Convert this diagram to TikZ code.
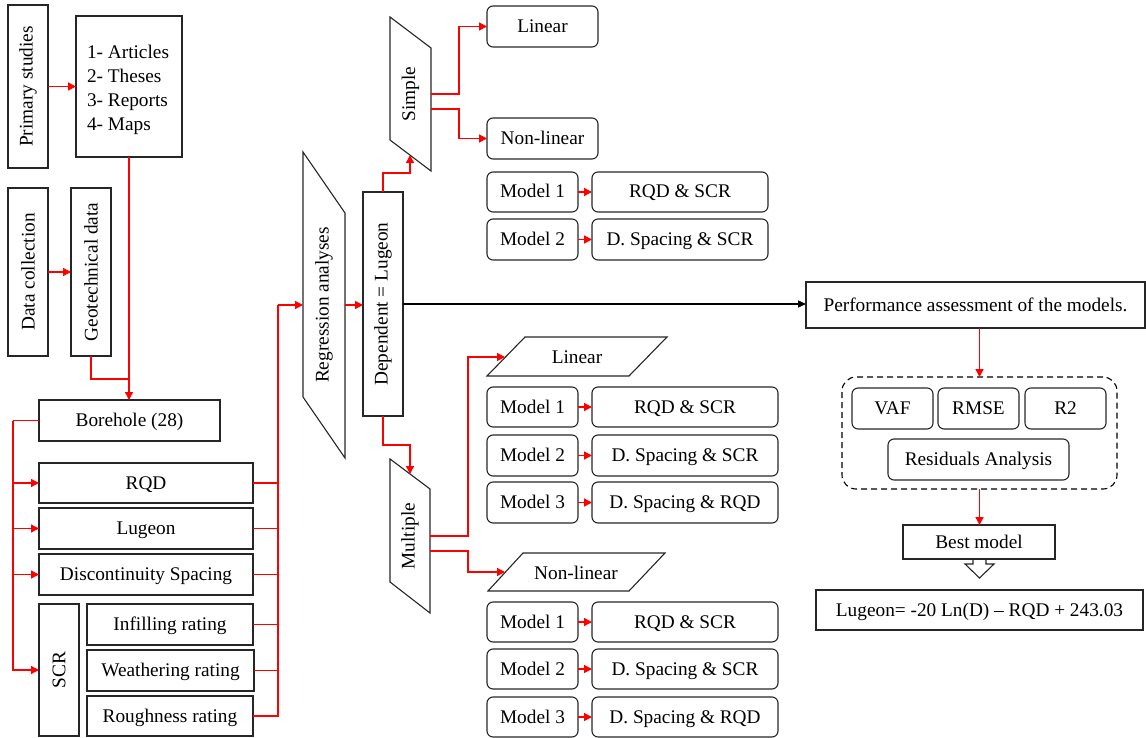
\documentclass[tikz,border=0pt]{standalone}
\usepackage{fontspec}
\setmainfont{Liberation Serif}
\usetikzlibrary{arrows.meta,calc}
\newcommand\mkbox[7][]{\node[#1, minimum width={(#5-#3)*1pt}, minimum height={(#6-#4)*1pt}] (#2) at ({(#3+#5)/2},{(#4+#6)/2}) {#7};}
\begin{document}
\begin{tikzpicture}[x=1pt,y=-1pt,
  font=\fontsize{19.3}{24}\selectfont,
  frame/.style={draw=black!85, line width=1.1pt, rectangle, inner sep=0pt, outer sep=0pt},
  capc/.style={text height=12pt, text depth=0pt},
  box/.style={frame, capc},
  rbox/.style={box, rounded corners=6pt},
  shp/.style={draw=black!85, line width=1.1pt},
  rline/.style={draw=red, line width=1.4pt},
  rarr/.style={rline, -{Triangle[length=8pt,width=8pt]}},
  barr/.style={draw=black, line width=1.3pt, -{Triangle[length=8pt,width=7pt]}},
  txt/.style={inner sep=0pt}]
\useasboundingbox (0,0) rectangle (1146,738);

% ---------- left column ----------
\mkbox[frame]{ps}{8}{5}{48}{168}{\rotatebox{90}{Primary studies}}
\mkbox[frame]{art}{76}{16}{182}{157}{}
\node[txt, align=left] (artT) at (128,90) {1- Articles\\2- Theses\\3- Reports\\4- Maps};
\mkbox[frame]{dc}{8}{188}{48}{356}{\rotatebox{90}{Data collection}}
\mkbox[frame]{geo}{71}{188}{111}{356}{\rotatebox{90}{Geotechnical data}}
\mkbox[box]{bh}{39}{400}{220}{441}{Borehole (28)}
\mkbox[box]{rqd}{39}{463}{253}{503}{RQD}
\mkbox[box]{lug}{39}{508}{253}{549}{Lugeon}
\mkbox[box]{ds}{39}{554}{253}{595}{Discontinuity Spacing}
\mkbox[frame]{scr}{39}{604}{79}{736}{\rotatebox{90}{SCR}}
\mkbox[box]{inf}{87}{604}{253}{645}{Infilling rating}
\mkbox[box]{wea}{87}{650}{254}{691}{Weathering rating}
\mkbox[box]{rou}{87}{696}{253}{736}{Roughness rating}

\draw[rarr] (ps.east) -- (art.west);
\draw[rarr] (dc.east) -- (geo.west);
\draw[rarr] (art.south) -- (art.south |- bh.north);
\coordinate (j1) at (129.5,379);
\draw[rline] (geo.south) |- (j1);

\draw[rline] (bh.west) -- ++(-26,0) coordinate (lb);
\foreach \t in {rqd,lug,ds,scr} \draw[rarr] (lb) |- (\t.west);

\coordinate (rb) at (278,305);
\foreach \t in {rqd,lug,ds,inf,wea,rou} \draw[rline] (\t.east) -| (rb);

% ---------- regression ----------
\draw[shp] (303,152) -- (345,213) -- (345,458) -- (303,397) -- cycle;
\node[txt, rotate=90] (reg) at (324,305) {Regression analyses};
\coordinate (regW) at (303,305);
\coordinate (regE) at (345,305);
\draw[rarr] (rb) -- (regW);
\mkbox[frame]{dep}{363}{192}{403}{416}{\rotatebox{90}{Dependent = Lugeon}}
\draw[rarr] (regE) -- (regE -| dep.west);

% simple
\draw[shp] (390,17) -- (431,48) -- (431,171) -- (390,140) -- cycle;
\node[txt, rotate=90] (simp) at (410.5,94) {Simple};
\coordinate (simpB) at (410,155);
\coordinate (sE1) at (431,94);
\coordinate (sE2) at (431,109);
\draw[rarr] (dep.north) -- ++(0,-19) -| (simpB);
\mkbox[rbox]{lin1}{487}{6}{598}{47}{Linear}
\mkbox[rbox]{nlin1}{487}{118}{598}{159}{Non-linear}
\draw[rarr] (sE1) -- ++(28,0) |- (lin1.west);
\draw[rarr] (sE2) -- ++(28,0) |- (nlin1.west);

\mkbox[rbox]{ma1}{487}{172}{578}{212}{Model 1}
\mkbox[rbox]{ra1}{592}{172}{768}{212}{RQD \& SCR}
\mkbox[rbox]{ma2}{487}{219}{578}{260}{Model 2}
\mkbox[rbox]{ra2}{592}{219}{768}{260}{D. Spacing \& SCR}
\draw[rarr] (ma1.east) -- (ra1.west);
\draw[rarr] (ma2.east) -- (ra2.west);

% multiple
\draw[shp] (390,459) -- (430,489) -- (430,613) -- (390,582) -- cycle;
\node[txt, rotate=90] (mult) at (410,536) {Multiple};
\coordinate (multT) at (410,474);
\coordinate (mE1) at (430,536);
\coordinate (mE2) at (430,551);
\draw[rarr] (dep.south) -- ++(0,29) -| (multT);

\draw[shp] (487,376) -- (525,337) -- (667,337) -- (629,376) -- cycle;
\node[txt, capc] (lin2) at (577,357) {Linear};
\coordinate (lin2W) at (505,357);
\draw[shp] (488,591) -- (523,553) -- (665,553) -- (629,591) -- cycle;
\node[txt, capc] (nlin2) at (576,573) {Non-linear};
\coordinate (nlin2W) at (505,572);
\draw[rarr] (mE1) -- ++(38,0) |- (lin2W);
\draw[rarr] (mE2) -- ++(38,0) |- (nlin2W);

\mkbox[rbox]{mb1}{487}{387}{578}{427}{Model 1}
\mkbox[rbox]{rb1}{592}{387}{778}{427}{RQD \& SCR}
\mkbox[rbox]{mb2}{487}{435}{578}{476}{Model 2}
\mkbox[rbox]{rb2}{592}{435}{778}{476}{D. Spacing \& SCR}
\mkbox[rbox]{mb3}{487}{482}{578}{523}{Model 3}
\mkbox[rbox]{rb3}{592}{482}{778}{523}{D. Spacing \& RQD}
\mkbox[rbox]{mc1}{487}{602}{578}{642}{Model 1}
\mkbox[rbox]{rc1}{592}{602}{778}{642}{RQD \& SCR}
\mkbox[rbox]{mc2}{487}{649}{578}{689}{Model 2}
\mkbox[rbox]{rc2}{592}{649}{778}{689}{D. Spacing \& SCR}
\mkbox[rbox]{mc3}{487}{697}{578}{737}{Model 3}
\mkbox[rbox]{rc3}{592}{697}{778}{737}{D. Spacing \& RQD}
\foreach \a/\b in {mb1/rb1,mb2/rb2,mb3/rb3,mc1/rc1,mc2/rc2,mc3/rc3}
  \draw[rarr] (\a.east) -- (\b.west);

% ---------- right side ----------
\mkbox[box]{perf}{806}{282}{1145}{328}{Performance assessment of the models.}
\draw[barr] (dep.east) -- (dep.east -| perf.west);
\mkbox[frame, draw=black, dash pattern=on 6pt off 4pt, rounded corners=14pt]{dash}{842}{377}{1117}{489}{}
\mkbox[rbox]{vaf}{852}{388}{933}{429}{VAF}
\mkbox[rbox]{rmse}{938}{388}{1019}{429}{RMSE}
\mkbox[rbox]{r2}{1025}{388}{1106}{429}{R2}
\mkbox[rbox]{res}{888}{439}{1069}{480}{Residuals Analysis}
\draw[rarr] (dash.north |- perf.south) -- (dash.north);
\mkbox[box]{best}{903}{525}{1055}{559}{Best model}
\draw[rarr] (dash.south) -- (dash.south |- best.north);
\draw[shp, line join=miter] (973,559) -- (973,564) -- (965,564) -- (979.5,578) -- (994,564) -- (986,564) -- (986,559);
\mkbox[box]{eq}{816}{590}{1143}{630}{Lugeon= -20 Ln(D) – RQD + 243.03}
\end{tikzpicture}
\end{document}
